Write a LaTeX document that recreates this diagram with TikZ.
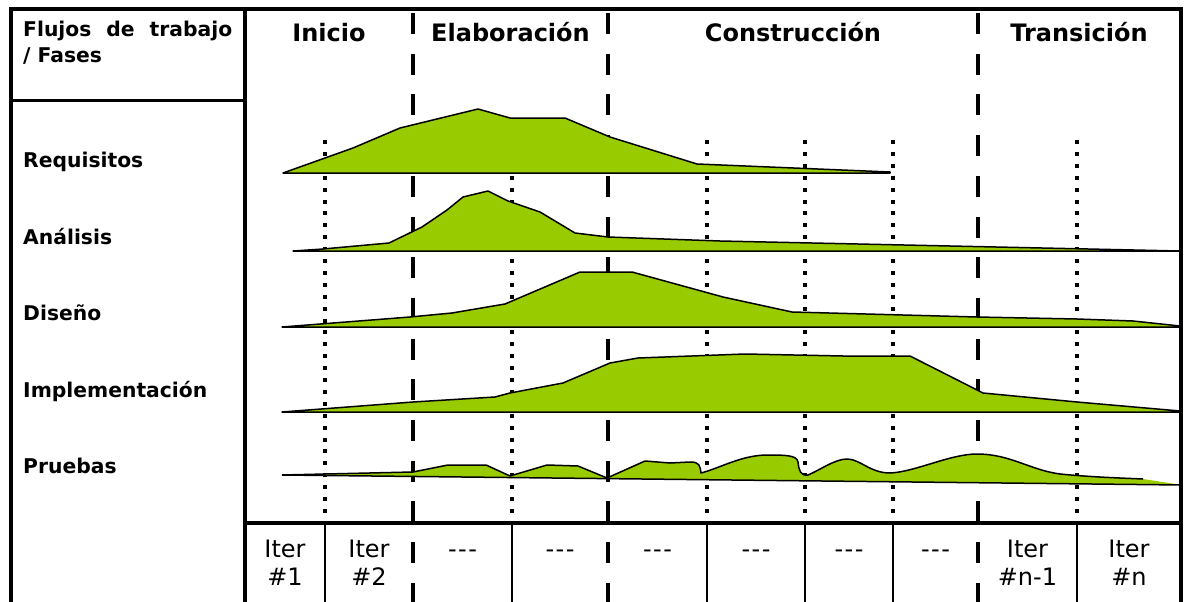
\documentclass[tikz,border=0pt]{standalone}
\usepackage{fontspec}
\setmainfont{DejaVu Sans}
\definecolor{verde}{RGB}{153,204,0}
\newcommand{\tresguiones}{-\kern1.5pt-\kern1.5pt-}
\begin{document}
\begin{tikzpicture}[x=1pt,y=-1pt,
  area/.style={fill=verde,draw=black,line width=1.5pt,line join=round},
  areafill/.style={fill=verde},
  outline/.style={draw=black,line width=1.5pt,line join=round},
  frame/.style={line width=4pt},
  phaseline/.style={line width=4.5pt,dash pattern=on 21pt off 19.7pt},
  iterline/.style={line width=4pt,dash pattern=on 4pt off 7.9pt},
  cellsep/.style={line width=2pt},
  rowlab/.style={anchor=base west,inner sep=0pt,font=\fontsize{20.3}{24}\selectfont\bfseries},
  phaselab/.style={anchor=base,inner sep=0pt,font=\fontsize{24}{28}\selectfont\bfseries},
  iterlab/.style={anchor=base,inner sep=0pt,font=\fontsize{24}{28}\selectfont}]
\useasboundingbox (0,0) rectangle (1186,602);

% frame
\draw[frame] (9,9) -- (1183,9);
\draw[frame] (11,7) -- (11,602);
\draw[frame] (1181,7) -- (1181,602);
\draw[frame] (245,7) -- (245,602);
\draw[line width=3pt] (11,100) -- (245,100);
\draw[line width=4.5pt] (245,523) -- (1181,523);

% phase separators (dashed)
\foreach \x in {413,608,978}
  \draw[phaseline] (\x,13) -- (\x,602);

% iteration separators (dotted) and cell separators
\foreach \x in {325,512,707,805,893,1077}{
  \draw[iterline] (\x,140) -- (\x,521);
  \draw[cellsep] (\x,523) -- (\x,602);
}

% Requisitos
\filldraw[area] (283,173) -- (353,148) -- (400,128) -- (478,109) -- (510,118) -- (565,118)
  -- (610,137) -- (697,164) -- (890,172) -- (890,173) -- cycle;
% Analisis
\filldraw[area] (293,251) -- (323,249) -- (389,243) -- (422,227) -- (447,210) -- (463,197)
  -- (488,191) -- (508,201) -- (540,212) -- (575,233) -- (608,237) -- (720,241) -- (1180,251) -- cycle;
% Diseno
\filldraw[area] (282,327) -- (410,317) -- (452,313) -- (505,304) -- (580,272) -- (632,272)
  -- (723,297) -- (792,312) -- (977,317) -- (1077,319) -- (1133,321) -- (1180,326) -- (1180,327) -- cycle;
% Implementacion
\filldraw[area] (282,412) -- (413,402) -- (495,397) -- (510,393) -- (563,383) -- (610,363)
  -- (638,358) -- (745,354) -- (843,356) -- (910,356) -- (983,393) -- (1077,402) -- (1180,411) -- (1180,412) -- cycle;
% Pruebas
\def\pruebas{(282,475) -- (413,472) -- (448,465) -- (486,465) -- (510,476) -- (547,465) -- (578,466)
  -- (607,478) -- (645,461) -- (670,463) -- (690,462)
  .. controls (700,462) and (700,466) .. (701,473)
  .. controls (720,468) and (740,456) .. (765,455)
  .. controls (785,455) and (797,455) .. (798,462)
  .. controls (799,470) and (800,476) .. (808,475)
  .. controls (820,470) and (835,459) .. (847,459)
  .. controls (860,459) and (870,473) .. (890,473)
  .. controls (915,472) and (950,454) .. (977,454)
  .. controls (1010,454) and (1030,470) .. (1060,474)
  .. controls (1090,477) and (1120,478) .. (1143,479)}
\fill[areafill] \pruebas -- (1182,485) -- cycle;
\draw[outline] \pruebas;
\draw[outline] (282,475) -- (1182,485);

% header texts
\node[rowlab] (hdr1) at (23,37) {\makebox[209pt][s]{Flujos de trabajo}};
\node[rowlab] (hdr2) at (23,63) {/ Fases};
\node[phaselab] (inicio) at (329,42) {Inicio};
\node[phaselab] (elab) at (510.5,42) {Elaboración};
\node[phaselab] (const) at (793,42) {Construcción};
\node[phaselab] (trans) at (1079,42) {Transición};

% row labels
\node[rowlab] (req) at (23,167) {Requisitos};
\node[rowlab] (ana) at (23,244) {Análisis};
\node[rowlab] (dis) at (23,320) {Diseño};
\node[rowlab] (imp) at (23,397) {Implementación};
\node[rowlab] (pru) at (23,473) {Pruebas};

% iteration cells
\node[iterlab] (i1a) at (285,557) {Iter};
\node[iterlab] (i1b) at (285,585) {\#1};
\node[iterlab] (i2a) at (369,557) {Iter};
\node[iterlab] (i2b) at (369,585) {\#2};
\node[iterlab] (d1) at (462.5,557) {\tresguiones};
\node[iterlab] (d2) at (560,557) {\tresguiones};
\node[iterlab] (d3) at (657.5,557) {\tresguiones};
\node[iterlab] (d4) at (756,557) {\tresguiones};
\node[iterlab] (d5) at (849,557) {\tresguiones};
\node[iterlab] (d6) at (935.5,557) {\tresguiones};
\node[iterlab] (inm1a) at (1027.5,557) {Iter};
\node[iterlab] (inm1b) at (1027.5,585) {\#n-1};
\node[iterlab] (ina) at (1129,557) {Iter};
\node[iterlab] (inb) at (1129,585) {\#n};
\end{tikzpicture}
\end{document}
